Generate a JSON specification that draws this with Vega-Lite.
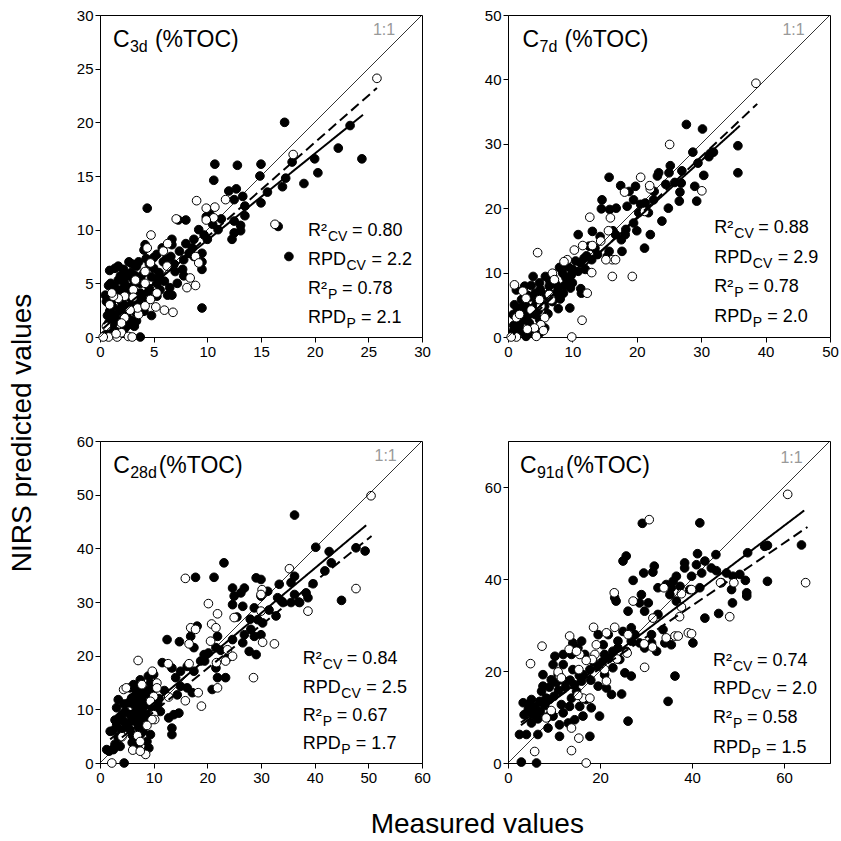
{
"$schema":"https://vega.github.io/schema/vega-lite/v6.json",
"padding":{"left":8,"top":7,"right":5,"bottom":0},
"config":{"font":"Liberation Sans","view":{"stroke":"black","strokeWidth":1},
"axis":{"domainColor":"black","tickColor":"black","labelColor":"black","labelFontSize":15,"tickSize":5,"labelPadding":2,"grid":false,"title":null,"labelFont":"Liberation Sans","labelFlush":false,"labelOverlap":false},
"title":{"font":"Liberation Sans","fontWeight":"normal","color":"black","fontSize":28},
"text":{"font":"Liberation Sans","color":"black"}},
"datasets":{
"pts":[
{"p":1,"t":"c","x":17.2,"y":20.0},{"p":1,"t":"c","x":23.3,"y":19.7},{"p":1,"t":"c","x":22.2,"y":17.6},{"p":1,"t":"c","x":24.4,"y":16.6},{"p":1,"t":"c","x":20.0,"y":16.6},{"p":1,"t":"c","x":20.3,"y":15.3},{"p":1,"t":"c","x":19.0,"y":14.3},{"p":1,"t":"c","x":17.9,"y":16.3},{"p":1,"t":"c","x":17.0,"y":14.0},{"p":1,"t":"c","x":17.3,"y":14.8},{"p":1,"t":"c","x":15.6,"y":13.5},{"p":1,"t":"c","x":15.0,"y":16.1},{"p":1,"t":"c","x":14.9,"y":15.0},{"p":1,"t":"c","x":15.0,"y":12.5},{"p":1,"t":"c","x":10.7,"y":16.1},{"p":1,"t":"c","x":10.6,"y":14.6},{"p":1,"t":"c","x":12.8,"y":16.0},{"p":1,"t":"c","x":12.0,"y":13.6},{"p":1,"t":"c","x":12.7,"y":13.8},{"p":1,"t":"c","x":13.3,"y":13.1},{"p":1,"t":"c","x":12.5,"y":12.8},{"p":1,"t":"c","x":13.5,"y":12.2},{"p":1,"t":"c","x":13.5,"y":11.3},{"p":1,"t":"c","x":12.5,"y":10.8},{"p":1,"t":"c","x":13.1,"y":10.4},{"p":1,"t":"c","x":13.1,"y":9.9},{"p":1,"t":"c","x":12.3,"y":9.1},{"p":1,"t":"c","x":12.5,"y":9.7},{"p":1,"t":"c","x":4.4,"y":12.0},{"p":1,"t":"c","x":17.6,"y":7.5},{"p":1,"t":"c","x":16.6,"y":10.3},{"p":1,"t":"c","x":9.5,"y":2.7},{"p":1,"t":"c","x":10.2,"y":11.6},{"p":1,"t":"c","x":9.2,"y":10.0},{"p":1,"t":"c","x":9.7,"y":9.5},{"p":1,"t":"c","x":10.0,"y":9.1},{"p":1,"t":"c","x":8.75,"y":9.1},{"p":1,"t":"c","x":9.5,"y":7.8},{"p":1,"t":"c","x":8.3,"y":7.8},{"p":1,"t":"c","x":7.8,"y":7.2},{"p":1,"t":"c","x":7.7,"y":6.3},{"p":1,"t":"c","x":7.0,"y":6.1},{"p":1,"t":"c","x":9.5,"y":6.3},{"p":1,"t":"c","x":6.6,"y":7.5},{"p":1,"t":"c","x":6.7,"y":8.6},{"p":1,"t":"c","x":5.8,"y":8.3},{"p":1,"t":"c","x":5.9,"y":7.0},{"p":1,"t":"c","x":5.5,"y":6.0},{"p":1,"t":"c","x":5.3,"y":5.0},{"p":1,"t":"c","x":5.6,"y":4.4},{"p":1,"t":"c","x":6.3,"y":3.9},{"p":1,"t":"c","x":6.7,"y":3.9},{"p":1,"t":"c","x":5.3,"y":3.8},{"p":1,"t":"c","x":4.2,"y":8.6},{"p":1,"t":"c","x":4.1,"y":8.1},{"p":1,"t":"c","x":5.0,"y":7.4},{"p":1,"t":"c","x":5.0,"y":6.4},{"p":1,"t":"c","x":4.5,"y":3.5},{"p":1,"t":"c","x":3.75,"y":4.1},{"p":1,"t":"c","x":3.75,"y":5.0},{"p":1,"t":"c","x":3.4,"y":6.6},{"p":1,"t":"c","x":2.7,"y":7.0},{"p":1,"t":"c","x":1.7,"y":6.6},{"p":1,"t":"c","x":1.4,"y":6.4},{"p":1,"t":"c","x":1.9,"y":5.7},{"p":1,"t":"c","x":2.3,"y":5.0},{"p":1,"t":"c","x":3.0,"y":4.7},{"p":1,"t":"c","x":3.3,"y":4.1},{"p":1,"t":"c","x":2.0,"y":3.3},{"p":1,"t":"c","x":1.25,"y":3.5},{"p":1,"t":"c","x":0.9,"y":2.4},{"p":1,"t":"c","x":1.1,"y":1.9},{"p":1,"t":"c","x":1.6,"y":1.6},{"p":1,"t":"c","x":2.5,"y":2.2},{"p":1,"t":"c","x":2.8,"y":1.6},{"p":1,"t":"c","x":3.4,"y":2.2},{"p":1,"t":"c","x":4.1,"y":2.4},{"p":1,"t":"c","x":0.8,"y":1.3},{"p":1,"t":"c","x":2.3,"y":0.8},{"p":1,"t":"c","x":3.75,"y":0},{"p":1,"t":"c","x":0.5,"y":3.9},{"p":1,"t":"c","x":0.6,"y":3.3},{"p":1,"t":"c","x":1.7,"y":4.1},{"p":1,"t":"c","x":2.7,"y":5.7},{"p":1,"t":"c","x":3.3,"y":5.7},{"p":1,"t":"c","x":4.1,"y":6.0},{"p":1,"t":"c","x":8.0,"y":10.9},{"p":1,"t":"c","x":6.7,"y":9.1},{"p":1,"t":"c","x":8.6,"y":8.3},{"p":1,"t":"c","x":8.75,"y":7.5},{"p":1,"t":"c","x":7.8,"y":5.7},{"p":1,"t":"c","x":7.3,"y":10.9},{"p":1,"t":"c","x":9.5,"y":7.0},{"p":1,"t":"c","x":10.5,"y":10.5},{"p":1,"t":"c","x":11.0,"y":10.0},{"p":1,"t":"c","x":11.3,"y":11.0},{"p":1,"t":"c","x":9.9,"y":11.2},{"p":1,"t":"c","x":2.0,"y":2.8},{"p":1,"t":"c","x":2.6,"y":3.8},{"p":1,"t":"c","x":3.0,"y":3.0},{"p":1,"t":"c","x":1.3,"y":2.0},{"p":1,"t":"c","x":2.2,"y":1.2},{"p":1,"t":"c","x":1.0,"y":0.8},{"p":1,"t":"c","x":3.2,"y":1.0},{"p":1,"t":"c","x":4.0,"y":3.2},{"p":1,"t":"c","x":4.6,"y":4.5},{"p":1,"t":"c","x":6.0,"y":5.2},{"p":1,"t":"c","x":3.6,"y":7.0},{"p":1,"t":"c","x":2.2,"y":6.3},{"p":1,"t":"c","x":1.0,"y":5.0},{"p":1,"t":"c","x":2.9,"y":6.0},{"p":1,"t":"c","x":0.5,"y":0.2},{"p":1,"t":"c","x":1.5,"y":0.5},
{"p":1,"t":"c","x":0.7,"y":2.0},{"p":1,"t":"c","x":1.2,"y":2.8},{"p":1,"t":"c","x":1.8,"y":2.4},{"p":1,"t":"c","x":2.4,"y":2.9},{"p":1,"t":"c","x":2.9,"y":3.6},{"p":1,"t":"c","x":3.5,"y":3.3},{"p":1,"t":"c","x":3.9,"y":3.9},{"p":1,"t":"c","x":4.4,"y":4.0},{"p":1,"t":"c","x":4.8,"y":5.6},{"p":1,"t":"c","x":5.5,"y":5.5},{"p":1,"t":"c","x":2.0,"y":4.4},{"p":1,"t":"c","x":2.6,"y":4.4},{"p":1,"t":"c","x":1.4,"y":4.6},{"p":1,"t":"c","x":0.8,"y":4.8},{"p":1,"t":"c","x":1.7,"y":5.3},{"p":1,"t":"c","x":2.4,"y":5.7},{"p":1,"t":"c","x":3.1,"y":5.4},{"p":1,"t":"c","x":3.8,"y":5.6},{"p":1,"t":"c","x":4.6,"y":6.8},{"p":1,"t":"c","x":5.3,"y":7.7},{"p":1,"t":"c","x":6.2,"y":7.3},{"p":1,"t":"c","x":6.9,"y":6.8},{"p":1,"t":"c","x":7.4,"y":8.0},{"p":1,"t":"c","x":8.0,"y":8.7},{"p":1,"t":"c","x":1.2,"y":1.2},{"p":1,"t":"c","x":2.6,"y":1.1},{"p":1,"t":"c","x":3.4,"y":1.5},{"p":1,"t":"c","x":4.8,"y":2.0},{"p":1,"t":"c","x":1.9,"y":3.9},{"p":1,"t":"c","x":0.9,"y":6.2},{"p":1,"t":"c","x":3.0,"y":6.8},{"p":1,"t":"c","x":4.3,"y":7.3},{"p":1,"t":"c","x":6.5,"y":4.6},{"p":1,"t":"c","x":7.2,"y":5.0},
{"p":1,"t":"v","x":25.8,"y":24.1},{"p":1,"t":"v","x":18.0,"y":17.0},{"p":1,"t":"v","x":11.7,"y":12.8},{"p":1,"t":"v","x":9.0,"y":12.7},{"p":1,"t":"v","x":9.9,"y":12.0},{"p":1,"t":"v","x":10.7,"y":12.1},{"p":1,"t":"v","x":10.6,"y":11.1},{"p":1,"t":"v","x":9.9,"y":10.9},{"p":1,"t":"v","x":7.1,"y":11.0},{"p":1,"t":"v","x":16.3,"y":10.5},{"p":1,"t":"v","x":4.75,"y":9.5},{"p":1,"t":"v","x":4.4,"y":8.3},{"p":1,"t":"v","x":6.3,"y":8.7},{"p":1,"t":"v","x":5.9,"y":8.0},{"p":1,"t":"v","x":4.7,"y":6.9},{"p":1,"t":"v","x":4.2,"y":6.1},{"p":1,"t":"v","x":6.25,"y":6.6},{"p":1,"t":"v","x":8.9,"y":7.5},{"p":1,"t":"v","x":9.2,"y":6.9},{"p":1,"t":"v","x":8.4,"y":5.5},{"p":1,"t":"v","x":8.1,"y":4.6},{"p":1,"t":"v","x":8.9,"y":4.8},{"p":1,"t":"v","x":5.2,"y":2.8},{"p":1,"t":"v","x":6.0,"y":2.5},{"p":1,"t":"v","x":6.8,"y":2.3},{"p":1,"t":"v","x":5.3,"y":4.1},{"p":1,"t":"v","x":4.2,"y":5.0},{"p":1,"t":"v","x":3.3,"y":5.3},{"p":1,"t":"v","x":3.1,"y":4.4},{"p":1,"t":"v","x":3.6,"y":2.1},{"p":1,"t":"v","x":2.3,"y":3.8},{"p":1,"t":"v","x":1.7,"y":3.6},{"p":1,"t":"v","x":1.25,"y":3.8},{"p":1,"t":"v","x":0.9,"y":3.0},{"p":1,"t":"v","x":1.1,"y":4.1},{"p":1,"t":"v","x":0.8,"y":0},{"p":1,"t":"v","x":0.3,"y":0},{"p":1,"t":"v","x":1.6,"y":0},{"p":1,"t":"v","x":2.0,"y":0.4},{"p":1,"t":"v","x":2.65,"y":0.05},{"p":1,"t":"v","x":3.0,"y":0},{"p":1,"t":"v","x":1.5,"y":0.3},{"p":1,"t":"v","x":2.3,"y":1.8},{"p":1,"t":"v","x":2.0,"y":1.3},{"p":1,"t":"v","x":3.5,"y":2.7},{"p":1,"t":"v","x":4.2,"y":2.9},{"p":1,"t":"v","x":4.7,"y":3.5},{"p":1,"t":"v","x":2.8,"y":2.5},{"p":1,"t":"v","x":0.6,"y":1.0},{"p":1,"t":"v","x":3.1,"y":3.7},
{"p":2,"t":"c","x":27.7,"y":33.0},{"p":2,"t":"c","x":30.2,"y":32.3},{"p":2,"t":"c","x":35.7,"y":29.7},{"p":2,"t":"c","x":35.7,"y":25.5},{"p":2,"t":"c","x":28.7,"y":28.7},{"p":2,"t":"c","x":31.4,"y":28.5},{"p":2,"t":"c","x":31.9,"y":28.7},{"p":2,"t":"c","x":29.0,"y":23.4},{"p":2,"t":"c","x":29.3,"y":21.1},{"p":2,"t":"c","x":30.4,"y":25.1},{"p":2,"t":"c","x":29.5,"y":27.0},{"p":2,"t":"c","x":23.4,"y":25.5},{"p":2,"t":"c","x":25.2,"y":26.6},{"p":2,"t":"c","x":25.0,"y":25.5},{"p":2,"t":"c","x":23.2,"y":25.0},{"p":2,"t":"c","x":26.9,"y":23.9},{"p":2,"t":"c","x":26.7,"y":22.5},{"p":2,"t":"c","x":24.9,"y":20.0},{"p":2,"t":"c","x":26.6,"y":21.1},{"p":2,"t":"c","x":23.9,"y":18.0},{"p":2,"t":"c","x":22.1,"y":15.9},{"p":2,"t":"c","x":21.2,"y":13.8},{"p":2,"t":"c","x":17.7,"y":13.3},{"p":2,"t":"c","x":17.6,"y":15.1},{"p":2,"t":"c","x":15.7,"y":24.8},{"p":2,"t":"c","x":14.6,"y":21.3},{"p":2,"t":"c","x":15.8,"y":19.8},{"p":2,"t":"c","x":14.5,"y":19.9},{"p":2,"t":"c","x":13.1,"y":16.4},{"p":2,"t":"c","x":10.9,"y":15.9},{"p":2,"t":"c","x":12.6,"y":14.1},{"p":2,"t":"c","x":17.5,"y":23.5},{"p":2,"t":"c","x":18.8,"y":22.6},{"p":2,"t":"c","x":19.8,"y":23.4},{"p":2,"t":"c","x":19.5,"y":21.3},{"p":2,"t":"c","x":18.5,"y":20.3},{"p":2,"t":"c","x":20.3,"y":19.3},{"p":2,"t":"c","x":21.3,"y":20.8},{"p":2,"t":"c","x":21.8,"y":19.3},{"p":2,"t":"c","x":22.6,"y":21.3},{"p":2,"t":"c","x":19.5,"y":17.7},{"p":2,"t":"c","x":18.3,"y":16.7},{"p":2,"t":"c","x":18.2,"y":15.9},{"p":2,"t":"c","x":16.7,"y":15.9},{"p":2,"t":"c","x":15.4,"y":12.5},{"p":2,"t":"c","x":15.7,"y":13.3},{"p":2,"t":"c","x":13.9,"y":12.8},{"p":2,"t":"c","x":11.3,"y":11.5},{"p":2,"t":"c","x":10.9,"y":10.2},{"p":2,"t":"c","x":10.0,"y":10.5},{"p":2,"t":"c","x":11.3,"y":7.5},{"p":2,"t":"c","x":11.4,"y":6.8},{"p":2,"t":"c","x":8.1,"y":5.9},{"p":2,"t":"c","x":9.6,"y":4.5},{"p":2,"t":"c","x":10.0,"y":8.4},{"p":2,"t":"c","x":9.0,"y":9.2},{"p":2,"t":"c","x":8.5,"y":9.9},{"p":2,"t":"c","x":7.5,"y":8.1},{"p":2,"t":"c","x":6.4,"y":7.9},{"p":2,"t":"c","x":5.8,"y":9.4},{"p":2,"t":"c","x":4.9,"y":8.4},{"p":2,"t":"c","x":3.9,"y":9.4},{"p":2,"t":"c","x":3.6,"y":8.0},{"p":2,"t":"c","x":2.6,"y":7.9},{"p":2,"t":"c","x":1.3,"y":7.3},{"p":2,"t":"c","x":1.0,"y":5.0},{"p":2,"t":"c","x":2.1,"y":5.8},{"p":2,"t":"c","x":3.1,"y":4.5},{"p":2,"t":"c","x":4.4,"y":5.5},{"p":2,"t":"c","x":5.7,"y":4.8},{"p":2,"t":"c","x":6.9,"y":5.5},{"p":2,"t":"c","x":2.3,"y":3.5},{"p":2,"t":"c","x":1.5,"y":2.7},{"p":2,"t":"c","x":3.3,"y":2.2},{"p":2,"t":"c","x":4.9,"y":2.7},{"p":2,"t":"c","x":5.7,"y":1.4},{"p":2,"t":"c","x":3.9,"y":0.6},{"p":2,"t":"c","x":2.8,"y":0.1},{"p":2,"t":"c","x":1.8,"y":1.4},{"p":2,"t":"c","x":0.8,"y":0.9},{"p":2,"t":"c","x":4.9,"y":0.6},{"p":2,"t":"c","x":6.4,"y":6.8},{"p":2,"t":"c","x":7.7,"y":7.1},{"p":2,"t":"c","x":12.2,"y":12.6},{"p":2,"t":"c","x":13.5,"y":13.8},{"p":2,"t":"c","x":14.3,"y":15.6},{"p":2,"t":"c","x":16.3,"y":16.5},{"p":2,"t":"c","x":20.6,"y":20.6},{"p":2,"t":"c","x":22.7,"y":22.6},{"p":2,"t":"c","x":25.9,"y":24.0},{"p":2,"t":"c","x":27.0,"y":25.8},{"p":2,"t":"c","x":31.2,"y":28.0},{"p":2,"t":"c","x":24.5,"y":23.7},{"p":2,"t":"c","x":20.0,"y":16.5},{"p":2,"t":"c","x":16.8,"y":20.0},{"p":2,"t":"c","x":13.0,"y":12.0},{"p":2,"t":"c","x":8.8,"y":8.0},{"p":2,"t":"c","x":7.3,"y":6.2},{"p":2,"t":"c","x":12.0,"y":10.5},{"p":2,"t":"c","x":3.0,"y":6.5},{"p":2,"t":"c","x":2.0,"y":4.5},{"p":2,"t":"c","x":4.2,"y":3.5},{"p":2,"t":"c","x":5.2,"y":6.8},{"p":2,"t":"c","x":0.8,"y":3.5},{"p":2,"t":"c","x":1.8,"y":2.0},
{"p":2,"t":"c","x":1.2,"y":1.8},{"p":2,"t":"c","x":2.0,"y":2.6},{"p":2,"t":"c","x":2.7,"y":3.0},{"p":2,"t":"c","x":3.5,"y":3.7},{"p":2,"t":"c","x":4.0,"y":4.6},{"p":2,"t":"c","x":4.7,"y":4.1},{"p":2,"t":"c","x":2.6,"y":5.2},{"p":2,"t":"c","x":3.3,"y":6.2},{"p":2,"t":"c","x":4.2,"y":6.8},{"p":2,"t":"c","x":5.0,"y":7.4},{"p":2,"t":"c","x":5.9,"y":6.4},{"p":2,"t":"c","x":6.5,"y":8.7},{"p":2,"t":"c","x":7.0,"y":9.3},{"p":2,"t":"c","x":8.0,"y":10.8},{"p":2,"t":"c","x":9.3,"y":10.9},{"p":2,"t":"c","x":9.8,"y":9.6},{"p":2,"t":"c","x":10.5,"y":11.8},{"p":2,"t":"c","x":11.8,"y":12.2},{"p":2,"t":"c","x":1.5,"y":4.2},{"p":2,"t":"c","x":0.9,"y":1.8},{"p":2,"t":"c","x":2.2,"y":0.8},{"p":2,"t":"c","x":3.6,"y":1.5},{"p":2,"t":"c","x":6.2,"y":3.6},{"p":2,"t":"c","x":7.8,"y":4.4},{"p":2,"t":"c","x":8.6,"y":6.8},{"p":2,"t":"c","x":9.7,"y":7.6},
{"p":2,"t":"v","x":38.5,"y":39.4},{"p":2,"t":"v","x":25.1,"y":29.9},{"p":2,"t":"v","x":30.1,"y":22.7},{"p":2,"t":"v","x":20.6,"y":24.8},{"p":2,"t":"v","x":22.1,"y":23.0},{"p":2,"t":"v","x":18.1,"y":22.5},{"p":2,"t":"v","x":12.7,"y":18.6},{"p":2,"t":"v","x":15.9,"y":18.5},{"p":2,"t":"v","x":15.6,"y":16.5},{"p":2,"t":"v","x":21.2,"y":19.5},{"p":2,"t":"v","x":4.6,"y":13.1},{"p":2,"t":"v","x":13.1,"y":14.2},{"p":2,"t":"v","x":14.4,"y":14.9},{"p":2,"t":"v","x":11.6,"y":14.2},{"p":2,"t":"v","x":16.2,"y":12.0},{"p":2,"t":"v","x":16.7,"y":12.0},{"p":2,"t":"v","x":15.2,"y":12.0},{"p":2,"t":"v","x":13.0,"y":10.0},{"p":2,"t":"v","x":16.2,"y":9.4},{"p":2,"t":"v","x":19.3,"y":9.4},{"p":2,"t":"v","x":12.3,"y":6.8},{"p":2,"t":"v","x":11.5,"y":2.6},{"p":2,"t":"v","x":9.9,"y":0},{"p":2,"t":"v","x":9.2,"y":12.0},{"p":2,"t":"v","x":8.7,"y":11.7},{"p":2,"t":"v","x":6.9,"y":9.9},{"p":2,"t":"v","x":7.2,"y":8.9},{"p":2,"t":"v","x":6.4,"y":6.6},{"p":2,"t":"v","x":1.0,"y":8.1},{"p":2,"t":"v","x":2.3,"y":7.1},{"p":2,"t":"v","x":1.3,"y":3.0},{"p":2,"t":"v","x":1.8,"y":3.5},{"p":2,"t":"v","x":3.6,"y":4.2},{"p":2,"t":"v","x":5.1,"y":4.8},{"p":2,"t":"v","x":5.7,"y":3.0},{"p":2,"t":"v","x":5.1,"y":1.9},{"p":2,"t":"v","x":5.5,"y":1.0},{"p":2,"t":"v","x":4.1,"y":1.4},{"p":2,"t":"v","x":1.3,"y":0},{"p":2,"t":"v","x":4.4,"y":0.1},{"p":2,"t":"v","x":0.5,"y":0},{"p":2,"t":"v","x":6.7,"y":5.8},{"p":2,"t":"v","x":4.9,"y":5.8},{"p":2,"t":"v","x":2.8,"y":6.0},{"p":2,"t":"v","x":3.0,"y":1.2},{"p":2,"t":"v","x":10.3,"y":13.5},{"p":2,"t":"v","x":22.0,"y":23.5},
{"p":3,"t":"c","x":36.25,"y":46.2},{"p":3,"t":"c","x":40.2,"y":40.2},{"p":3,"t":"c","x":42.7,"y":39.4},{"p":3,"t":"c","x":47.7,"y":40.1},{"p":3,"t":"c","x":49.4,"y":39.5},{"p":3,"t":"c","x":41.9,"y":35.8},{"p":3,"t":"c","x":43.1,"y":37.3},{"p":3,"t":"c","x":45.0,"y":30.3},{"p":3,"t":"c","x":23.1,"y":37.3},{"p":3,"t":"c","x":21.25,"y":34.6},{"p":3,"t":"c","x":17.8,"y":34.6},{"p":3,"t":"c","x":39.7,"y":33.4},{"p":3,"t":"c","x":38.4,"y":31.7},{"p":3,"t":"c","x":38.75,"y":30.8},{"p":3,"t":"c","x":36.25,"y":34.8},{"p":3,"t":"c","x":35.6,"y":33.6},{"p":3,"t":"c","x":33.4,"y":33.3},{"p":3,"t":"c","x":30.0,"y":34.2},{"p":3,"t":"c","x":29.1,"y":34.5},{"p":3,"t":"c","x":30.0,"y":31.1},{"p":3,"t":"c","x":31.25,"y":32.0},{"p":3,"t":"c","x":33.1,"y":30.8},{"p":3,"t":"c","x":34.1,"y":29.9},{"p":3,"t":"c","x":35.6,"y":29.9},{"p":3,"t":"c","x":37.2,"y":29.9},{"p":3,"t":"c","x":36.25,"y":31.4},{"p":3,"t":"c","x":32.8,"y":27.4},{"p":3,"t":"c","x":26.9,"y":32.6},{"p":3,"t":"c","x":26.25,"y":31.7},{"p":3,"t":"c","x":24.7,"y":32.6},{"p":3,"t":"c","x":25.0,"y":31.1},{"p":3,"t":"c","x":24.7,"y":29.5},{"p":3,"t":"c","x":26.6,"y":29.2},{"p":3,"t":"c","x":28.75,"y":28.9},{"p":3,"t":"c","x":29.4,"y":26.7},{"p":3,"t":"c","x":30.3,"y":26.1},{"p":3,"t":"c","x":28.1,"y":24.9},{"p":3,"t":"c","x":28.75,"y":23.6},{"p":3,"t":"c","x":30.0,"y":23.9},{"p":3,"t":"c","x":26.9,"y":23.9},{"p":3,"t":"c","x":26.6,"y":22.4},{"p":3,"t":"c","x":27.8,"y":20.8},{"p":3,"t":"c","x":29.1,"y":20.2},{"p":3,"t":"c","x":24.7,"y":23.0},{"p":3,"t":"c","x":23.75,"y":19.6},{"p":3,"t":"c","x":21.9,"y":23.6},{"p":3,"t":"c","x":21.6,"y":21.5},{"p":3,"t":"c","x":21.6,"y":17.7},{"p":3,"t":"c","x":21.9,"y":15.9},{"p":3,"t":"c","x":23.4,"y":15.9},{"p":3,"t":"c","x":20.9,"y":13.7},{"p":3,"t":"c","x":18.1,"y":25.5},{"p":3,"t":"c","x":16.9,"y":23.6},{"p":3,"t":"c","x":17.5,"y":21.5},{"p":3,"t":"c","x":19.4,"y":20.2},{"p":3,"t":"c","x":18.75,"y":19.0},{"p":3,"t":"c","x":16.25,"y":18.0},{"p":3,"t":"c","x":15.0,"y":17.1},{"p":3,"t":"c","x":12.5,"y":23.0},{"p":3,"t":"c","x":14.8,"y":22.6},{"p":3,"t":"c","x":11.6,"y":18.7},{"p":3,"t":"c","x":13.4,"y":17.7},{"p":3,"t":"c","x":14.1,"y":15.9},{"p":3,"t":"c","x":15.0,"y":14.3},{"p":3,"t":"c","x":16.25,"y":14.0},{"p":3,"t":"c","x":17.5,"y":17.1},{"p":3,"t":"c","x":17.2,"y":13.1},{"p":3,"t":"c","x":14.4,"y":12.7},{"p":3,"t":"c","x":14.7,"y":9.3},{"p":3,"t":"c","x":13.75,"y":9.0},{"p":3,"t":"c","x":13.4,"y":6.5},{"p":3,"t":"c","x":13.4,"y":5.3},{"p":3,"t":"c","x":12.8,"y":8.4},{"p":3,"t":"c","x":9.4,"y":14.9},{"p":3,"t":"c","x":9.7,"y":13.4},{"p":3,"t":"c","x":8.75,"y":11.8},{"p":3,"t":"c","x":7.5,"y":15.5},{"p":3,"t":"c","x":6.25,"y":14.6},{"p":3,"t":"c","x":5.6,"y":14.0},{"p":3,"t":"c","x":5.9,"y":12.1},{"p":3,"t":"c","x":7.2,"y":11.2},{"p":3,"t":"c","x":8.1,"y":10.6},{"p":3,"t":"c","x":9.4,"y":9.3},{"p":3,"t":"c","x":10.3,"y":10.3},{"p":3,"t":"c","x":11.25,"y":9.6},{"p":3,"t":"c","x":6.9,"y":9.6},{"p":3,"t":"c","x":5.6,"y":9.0},{"p":3,"t":"c","x":4.7,"y":9.6},{"p":3,"t":"c","x":3.4,"y":11.8},{"p":3,"t":"c","x":3.1,"y":10.3},{"p":3,"t":"c","x":4.4,"y":7.8},{"p":3,"t":"c","x":3.1,"y":7.0},{"p":3,"t":"c","x":1.9,"y":5.9},{"p":3,"t":"c","x":5.6,"y":6.2},{"p":3,"t":"c","x":6.9,"y":7.5},{"p":3,"t":"c","x":8.4,"y":7.2},{"p":3,"t":"c","x":9.4,"y":5.3},{"p":3,"t":"c","x":8.75,"y":4.0},{"p":3,"t":"c","x":7.5,"y":5.3},{"p":3,"t":"c","x":6.6,"y":4.4},{"p":3,"t":"c","x":9.1,"y":2.8},{"p":3,"t":"c","x":3.4,"y":4.7},{"p":3,"t":"c","x":3.75,"y":3.1},{"p":3,"t":"c","x":2.5,"y":2.5},{"p":3,"t":"c","x":1.7,"y":2.2},{"p":3,"t":"c","x":1.25,"y":2.5},{"p":3,"t":"c","x":4.5,"y":0},{"p":3,"t":"c","x":4.1,"y":9.0},{"p":3,"t":"c","x":7.0,"y":8.0},{"p":3,"t":"c","x":8.0,"y":9.5},{"p":3,"t":"c","x":6.5,"y":12.5},{"p":3,"t":"c","x":7.8,"y":13.0},{"p":3,"t":"c","x":9.0,"y":16.2},{"p":3,"t":"c","x":10.0,"y":16.5},{"p":3,"t":"c","x":8.5,"y":12.5},{"p":3,"t":"c","x":11.0,"y":12.0},{"p":3,"t":"c","x":19.5,"y":19.0},{"p":3,"t":"c","x":20.2,"y":20.5},{"p":3,"t":"c","x":22.5,"y":21.0},{"p":3,"t":"c","x":25.5,"y":27.2},{"p":3,"t":"c","x":28.0,"y":26.8},{"p":3,"t":"c","x":31.5,"y":28.5},{"p":3,"t":"c","x":33.8,"y":30.2},{"p":3,"t":"c","x":37.0,"y":30.0},{"p":3,"t":"c","x":4.0,"y":6.2},{"p":3,"t":"c","x":2.4,"y":6.0},{"p":3,"t":"c","x":6.0,"y":5.2},{"p":3,"t":"c","x":7.0,"y":3.2},
{"p":3,"t":"c","x":5.0,"y":6.8},{"p":3,"t":"c","x":5.8,"y":7.8},{"p":3,"t":"c","x":6.3,"y":9.2},{"p":3,"t":"c","x":7.0,"y":10.2},{"p":3,"t":"c","x":7.5,"y":9.0},{"p":3,"t":"c","x":8.2,"y":8.4},{"p":3,"t":"c","x":6.4,"y":10.8},{"p":3,"t":"c","x":7.7,"y":11.9},{"p":3,"t":"c","x":8.9,"y":13.5},{"p":3,"t":"c","x":6.8,"y":13.6},{"p":3,"t":"c","x":5.3,"y":11.2},{"p":3,"t":"c","x":4.5,"y":11.0},{"p":3,"t":"c","x":3.6,"y":8.5},{"p":3,"t":"c","x":2.8,"y":8.0},{"p":3,"t":"c","x":9.5,"y":10.6},{"p":3,"t":"c","x":10.8,"y":11.0},{"p":3,"t":"c","x":12.0,"y":13.5},{"p":3,"t":"c","x":7.3,"y":6.4},{"p":3,"t":"c","x":8.0,"y":5.9},{"p":3,"t":"c","x":6.0,"y":3.8},{"p":3,"t":"c","x":2.8,"y":3.5},
{"p":3,"t":"v","x":50.5,"y":49.8},{"p":3,"t":"v","x":47.7,"y":32.5},{"p":3,"t":"v","x":15.9,"y":34.4},{"p":3,"t":"v","x":30.2,"y":32.3},{"p":3,"t":"v","x":30.0,"y":31.4},{"p":3,"t":"v","x":35.3,"y":36.2},{"p":3,"t":"v","x":38.75,"y":28.3},{"p":3,"t":"v","x":30.0,"y":28.3},{"p":3,"t":"v","x":25.0,"y":27.1},{"p":3,"t":"v","x":20.2,"y":29.7},{"p":3,"t":"v","x":21.9,"y":27.8},{"p":3,"t":"v","x":20.8,"y":25.9},{"p":3,"t":"v","x":21.6,"y":25.2},{"p":3,"t":"v","x":16.9,"y":25.2},{"p":3,"t":"v","x":17.8,"y":24.9},{"p":3,"t":"v","x":20.6,"y":22.7},{"p":3,"t":"v","x":23.75,"y":21.1},{"p":3,"t":"v","x":24.7,"y":19.9},{"p":3,"t":"v","x":23.4,"y":19.0},{"p":3,"t":"v","x":21.7,"y":18.7},{"p":3,"t":"v","x":30.3,"y":22.5},{"p":3,"t":"v","x":32.5,"y":22.2},{"p":3,"t":"v","x":28.6,"y":15.9},{"p":3,"t":"v","x":21.9,"y":14.0},{"p":3,"t":"v","x":16.6,"y":22.2},{"p":3,"t":"v","x":16.6,"y":18.5},{"p":3,"t":"v","x":12.7,"y":18.5},{"p":3,"t":"v","x":12.8,"y":12.3},{"p":3,"t":"v","x":15.9,"y":11.6},{"p":3,"t":"v","x":18.3,"y":13.1},{"p":3,"t":"v","x":18.9,"y":10.6},{"p":3,"t":"v","x":7.1,"y":19.1},{"p":3,"t":"v","x":9.75,"y":17.1},{"p":3,"t":"v","x":10.6,"y":14.9},{"p":3,"t":"v","x":10.6,"y":14.0},{"p":3,"t":"v","x":7.8,"y":14.6},{"p":3,"t":"v","x":4.4,"y":13.7},{"p":3,"t":"v","x":4.9,"y":14.0},{"p":3,"t":"v","x":10.0,"y":12.4},{"p":3,"t":"v","x":9.4,"y":11.5},{"p":3,"t":"v","x":10.0,"y":9.0},{"p":3,"t":"v","x":10.2,"y":8.1},{"p":3,"t":"v","x":9.7,"y":8.1},{"p":3,"t":"v","x":8.75,"y":7.0},{"p":3,"t":"v","x":7.0,"y":5.1},{"p":3,"t":"v","x":7.5,"y":4.0},{"p":3,"t":"v","x":6.1,"y":2.4},{"p":3,"t":"v","x":8.5,"y":1.6},{"p":3,"t":"v","x":4.1,"y":4.9},{"p":3,"t":"v","x":2.2,"y":0},{"p":3,"t":"v","x":7.5,"y":2.2},
{"p":4,"t":"c","x":29.2,"y":52.1},{"p":4,"t":"c","x":41.7,"y":52.2},{"p":4,"t":"c","x":63.8,"y":47.4},{"p":4,"t":"c","x":55.8,"y":47.1},{"p":4,"t":"c","x":56.4,"y":47.3},{"p":4,"t":"c","x":52.1,"y":45.7},{"p":4,"t":"c","x":45.2,"y":45.3},{"p":4,"t":"c","x":41.2,"y":45.5},{"p":4,"t":"c","x":25.7,"y":45.0},{"p":4,"t":"c","x":25.0,"y":43.9},{"p":4,"t":"c","x":31.8,"y":42.8},{"p":4,"t":"c","x":31.5,"y":41.5},{"p":4,"t":"c","x":29.5,"y":41.3},{"p":4,"t":"c","x":27.2,"y":39.7},{"p":4,"t":"c","x":56.4,"y":39.5},{"p":4,"t":"c","x":51.6,"y":39.7},{"p":4,"t":"c","x":46.4,"y":39.2},{"p":4,"t":"c","x":38.4,"y":43.5},{"p":4,"t":"c","x":38.4,"y":42.4},{"p":4,"t":"c","x":40.97,"y":43.1},{"p":4,"t":"c","x":44.2,"y":42.4},{"p":4,"t":"c","x":45.3,"y":41.8},{"p":4,"t":"c","x":42.1,"y":41.3},{"p":4,"t":"c","x":39.9,"y":40.6},{"p":4,"t":"c","x":36.6,"y":40.6},{"p":4,"t":"c","x":35.9,"y":39.5},{"p":4,"t":"c","x":34.4,"y":38.8},{"p":4,"t":"c","x":32.6,"y":38.1},{"p":4,"t":"c","x":35.5,"y":38.1},{"p":4,"t":"c","x":37.4,"y":38.4},{"p":4,"t":"c","x":39.5,"y":37.7},{"p":4,"t":"c","x":41.7,"y":38.1},{"p":4,"t":"c","x":47.5,"y":41.3},{"p":4,"t":"c","x":48.9,"y":40.6},{"p":4,"t":"c","x":50.4,"y":41.0},{"p":4,"t":"c","x":48.6,"y":37.7},{"p":4,"t":"c","x":48.8,"y":34.8},{"p":4,"t":"c","x":51.9,"y":37.0},{"p":4,"t":"c","x":51.9,"y":36.3},{"p":4,"t":"c","x":45.8,"y":32.5},{"p":4,"t":"c","x":42.8,"y":31.5},{"p":4,"t":"c","x":29.0,"y":36.6},{"p":4,"t":"c","x":30.5,"y":34.8},{"p":4,"t":"c","x":28.6,"y":34.8},{"p":4,"t":"c","x":29.7,"y":33.0},{"p":4,"t":"c","x":32.6,"y":32.3},{"p":4,"t":"c","x":35.2,"y":36.6},{"p":4,"t":"c","x":36.6,"y":35.2},{"p":4,"t":"c","x":33.7,"y":29.0},{"p":4,"t":"c","x":34.1,"y":26.1},{"p":4,"t":"c","x":35.5,"y":25.7},{"p":4,"t":"c","x":40.2,"y":26.1},{"p":4,"t":"c","x":34.8,"y":13.4},{"p":4,"t":"c","x":36.3,"y":18.9},{"p":4,"t":"c","x":26.1,"y":33.0},{"p":4,"t":"c","x":23.5,"y":35.2},{"p":4,"t":"c","x":23.2,"y":35.9},{"p":4,"t":"c","x":26.8,"y":29.4},{"p":4,"t":"c","x":27.6,"y":27.9},{"p":4,"t":"c","x":25.0,"y":28.6},{"p":4,"t":"c","x":23.9,"y":26.5},{"p":4,"t":"c","x":23.9,"y":25.0},{"p":4,"t":"c","x":22.8,"y":24.3},{"p":4,"t":"c","x":26.8,"y":26.5},{"p":4,"t":"c","x":21.8,"y":27.9},{"p":4,"t":"c","x":19.6,"y":27.9},{"p":4,"t":"c","x":20.7,"y":25.7},{"p":4,"t":"c","x":21.0,"y":23.6},{"p":4,"t":"c","x":18.5,"y":22.1},{"p":4,"t":"c","x":16.7,"y":23.6},{"p":4,"t":"c","x":13.8,"y":23.6},{"p":4,"t":"c","x":14.1,"y":20.3},{"p":4,"t":"c","x":16.0,"y":26.5},{"p":4,"t":"c","x":15.2,"y":25.0},{"p":4,"t":"c","x":14.1,"y":26.1},{"p":4,"t":"c","x":12.0,"y":23.6},{"p":4,"t":"c","x":10.2,"y":23.2},{"p":4,"t":"c","x":9.8,"y":21.4},{"p":4,"t":"c","x":12.0,"y":21.4},{"p":4,"t":"c","x":10.9,"y":19.2},{"p":4,"t":"c","x":7.6,"y":19.2},{"p":4,"t":"c","x":7.6,"y":16.7},{"p":4,"t":"c","x":9.4,"y":18.1},{"p":4,"t":"c","x":7.3,"y":15.6},{"p":4,"t":"c","x":8.3,"y":14.1},{"p":4,"t":"c","x":6.9,"y":13.4},{"p":4,"t":"c","x":5.1,"y":13.8},{"p":4,"t":"c","x":3.3,"y":13.1},{"p":4,"t":"c","x":4.4,"y":11.6},{"p":4,"t":"c","x":5.4,"y":10.5},{"p":4,"t":"c","x":5.1,"y":8.7},{"p":4,"t":"c","x":2.5,"y":6.2},{"p":4,"t":"c","x":4.0,"y":6.2},{"p":4,"t":"c","x":6.5,"y":6.2},{"p":4,"t":"c","x":8.7,"y":7.6},{"p":4,"t":"c","x":11.2,"y":5.8},{"p":4,"t":"c","x":9.8,"y":10.2},{"p":4,"t":"c","x":12.0,"y":10.9},{"p":4,"t":"c","x":11.6,"y":12.7},{"p":4,"t":"c","x":13.4,"y":12.3},{"p":4,"t":"c","x":13.8,"y":14.1},{"p":4,"t":"c","x":14.9,"y":15.6},{"p":4,"t":"c","x":16.0,"y":17.8},{"p":4,"t":"c","x":16.3,"y":19.2},{"p":4,"t":"c","x":17.8,"y":20.3},{"p":4,"t":"c","x":15.6,"y":12.3},{"p":4,"t":"c","x":17.0,"y":13.8},{"p":4,"t":"c","x":16.3,"y":10.2},{"p":4,"t":"c","x":17.8,"y":5.8},{"p":4,"t":"c","x":19.9,"y":10.2},{"p":4,"t":"c","x":18.1,"y":12.0},{"p":4,"t":"c","x":14.5,"y":9.4},{"p":4,"t":"c","x":13.1,"y":8.7},{"p":4,"t":"c","x":11.2,"y":8.3},{"p":4,"t":"c","x":9.4,"y":10.9},{"p":4,"t":"c","x":2.9,"y":0.2},{"p":4,"t":"c","x":6.2,"y":0},{"p":4,"t":"c","x":26.1,"y":9.1},{"p":4,"t":"c","x":22.5,"y":14.9},{"p":4,"t":"c","x":25.4,"y":19.6},{"p":4,"t":"c","x":26.8,"y":18.9},{"p":4,"t":"c","x":24.7,"y":15.0},{"p":4,"t":"c","x":21.4,"y":16.3},{"p":4,"t":"c","x":19.6,"y":16.7},{"p":4,"t":"c","x":21.0,"y":19.2},{"p":4,"t":"c","x":22.8,"y":20.7},{"p":4,"t":"c","x":24.3,"y":22.5},{"p":4,"t":"c","x":25.7,"y":24.3},{"p":4,"t":"c","x":28.6,"y":26.1},{"p":4,"t":"c","x":29.7,"y":25.0},{"p":4,"t":"c","x":31.2,"y":26.1},{"p":4,"t":"c","x":32.3,"y":24.3},{"p":4,"t":"c","x":31.2,"y":27.9},{"p":4,"t":"c","x":42.8,"y":43.9},
{"p":4,"t":"c","x":5.0,"y":11.0},{"p":4,"t":"c","x":6.0,"y":12.2},{"p":4,"t":"c","x":7.0,"y":11.2},{"p":4,"t":"c","x":8.0,"y":12.5},{"p":4,"t":"c","x":9.0,"y":13.8},{"p":4,"t":"c","x":10.0,"y":14.5},{"p":4,"t":"c","x":11.0,"y":15.8},{"p":4,"t":"c","x":12.5,"y":16.5},{"p":4,"t":"c","x":13.5,"y":18.0},{"p":4,"t":"c","x":9.0,"y":16.5},{"p":4,"t":"c","x":10.5,"y":17.5},{"p":4,"t":"c","x":12.0,"y":18.0},{"p":4,"t":"c","x":14.5,"y":17.0},{"p":4,"t":"c","x":15.5,"y":19.0},{"p":4,"t":"c","x":6.5,"y":9.6},{"p":4,"t":"c","x":8.5,"y":10.0},{"p":4,"t":"c","x":18.0,"y":18.0},{"p":4,"t":"c","x":19.5,"y":21.0},{"p":4,"t":"c","x":20.5,"y":22.0},{"p":4,"t":"c","x":22.0,"y":22.8},{"p":4,"t":"c","x":3.5,"y":10.5},{"p":4,"t":"c","x":4.5,"y":12.8},
{"p":4,"t":"v","x":60.8,"y":58.4},{"p":4,"t":"v","x":64.7,"y":39.2},{"p":4,"t":"v","x":30.7,"y":52.9},{"p":4,"t":"v","x":48.2,"y":31.8},{"p":4,"t":"v","x":49.1,"y":39.2},{"p":4,"t":"v","x":46.2,"y":39.2},{"p":4,"t":"v","x":39.9,"y":37.7},{"p":4,"t":"v","x":37.7,"y":36.8},{"p":4,"t":"v","x":33.9,"y":38.1},{"p":4,"t":"v","x":37.7,"y":33.9},{"p":4,"t":"v","x":37.3,"y":31.8},{"p":4,"t":"v","x":36.3,"y":27.6},{"p":4,"t":"v","x":37.0,"y":27.6},{"p":4,"t":"v","x":34.4,"y":27.2},{"p":4,"t":"v","x":39.2,"y":28.3},{"p":4,"t":"v","x":39.9,"y":28.1},{"p":4,"t":"v","x":31.4,"y":25.2},{"p":4,"t":"v","x":29.6,"y":25.9},{"p":4,"t":"v","x":31.5,"y":31.5},{"p":4,"t":"v","x":27.2,"y":35.2},{"p":4,"t":"v","x":23.1,"y":37.0},{"p":4,"t":"v","x":29.7,"y":20.8},{"p":4,"t":"v","x":23.2,"y":29.5},{"p":4,"t":"v","x":26.1,"y":27.9},{"p":4,"t":"v","x":25.9,"y":23.9},{"p":4,"t":"v","x":23.7,"y":22.6},{"p":4,"t":"v","x":21.4,"y":28.3},{"p":4,"t":"v","x":18.6,"y":29.5},{"p":4,"t":"v","x":19.2,"y":25.7},{"p":4,"t":"v","x":18.9,"y":23.6},{"p":4,"t":"v","x":21.0,"y":20.3},{"p":4,"t":"v","x":21.4,"y":17.8},{"p":4,"t":"v","x":18.3,"y":22.5},{"p":4,"t":"v","x":17.0,"y":22.3},{"p":4,"t":"v","x":15.6,"y":23.6},{"p":4,"t":"v","x":13.4,"y":27.6},{"p":4,"t":"v","x":13.3,"y":24.7},{"p":4,"t":"v","x":14.9,"y":24.3},{"p":4,"t":"v","x":15.4,"y":20.3},{"p":4,"t":"v","x":16.3,"y":14.1},{"p":4,"t":"v","x":17.8,"y":14.1},{"p":4,"t":"v","x":15.2,"y":14.7},{"p":4,"t":"v","x":11.2,"y":18.9},{"p":4,"t":"v","x":10.9,"y":19.8},{"p":4,"t":"v","x":11.6,"y":18.5},{"p":4,"t":"v","x":7.4,"y":25.4},{"p":4,"t":"v","x":4.9,"y":21.6},{"p":4,"t":"v","x":8.3,"y":9.8},{"p":4,"t":"v","x":13.8,"y":7.6},{"p":4,"t":"v","x":15.4,"y":5.4},{"p":4,"t":"v","x":5.8,"y":2.5},{"p":4,"t":"v","x":13.8,"y":2.7},{"p":4,"t":"v","x":17.0,"y":0},{"p":4,"t":"v","x":9.4,"y":11.4}
],
"lines":[
{"p":1,"k":"solid","x":0.3,"y":1.2},{"p":1,"k":"solid","x":24.5,"y":20.7},{"p":1,"k":"dashed","x":0.3,"y":0.8},{"p":1,"k":"dashed","x":25.8,"y":23.2},
{"p":2,"k":"solid","x":0.8,"y":1.0},{"p":2,"k":"solid","x":36.0,"y":32.8},{"p":2,"k":"dashed","x":0.8,"y":0.4},{"p":2,"k":"dashed","x":38.7,"y":36.2},
{"p":3,"k":"solid","x":1.9,"y":4.4},{"p":3,"k":"solid","x":49.6,"y":44.3},{"p":3,"k":"dashed","x":1.9,"y":3.0},{"p":3,"k":"dashed","x":50.6,"y":42.3},
{"p":4,"k":"solid","x":2.8,"y":8.2},{"p":4,"k":"solid","x":64.4,"y":54.9},{"p":4,"k":"dashed","x":2.8,"y":8.8},{"p":4,"k":"dashed","x":65.1,"y":51.3}
],
"one":[
{"p":1,"x":0,"y":0},{"p":1,"x":30,"y":30},{"p":2,"x":0,"y":0},{"p":2,"x":50,"y":50},{"p":3,"x":0,"y":0},{"p":3,"x":60,"y":60},{"p":4,"x":0,"y":0},{"p":4,"x":70,"y":70}
],
"ttl":[
{"p":1,"x":1.2,"y":27.05,"sub":"3d"},{"p":2,"x":2.27,"y":44.98,"sub":"7d"},{"p":3,"x":2.46,"y":54.1,"sub":"28d"},{"p":4,"x":2.59,"y":63.1,"sub":"91d"}
],
"lbl":[
{"p":1,"x":27.5,"y":28.1},{"p":2,"x":46.07,"y":46.9},{"p":3,"x":55.3,"y":56.3},{"p":4,"x":64.06,"y":65.3}
],
"ann":[
{"p":1,"k":"r2cv","st":"R²","sb":"CV","v":"= 0.80","x":19.37,"y":9.41},{"p":1,"k":"rpdcv","st":"RPD","sb":"CV","v":"= 2.2","x":19.37,"y":6.71},{"p":1,"k":"r2p","st":"R²","sb":"P","v":"= 0.78","x":19.37,"y":4.01},{"p":1,"k":"rpdp","st":"RPD","sb":"P","v":"= 2.1","x":19.37,"y":1.30},
{"p":2,"k":"r2cv","st":"R²","sb":"CV","v":"= 0.88","x":32.03,"y":16.15},{"p":2,"k":"rpdcv","st":"RPD","sb":"CV","v":"= 2.9","x":32.03,"y":11.5},{"p":2,"k":"r2p","st":"R²","sb":"P","v":"= 0.78","x":32.03,"y":7.0},{"p":2,"k":"rpdp","st":"RPD","sb":"P","v":"= 2.0","x":32.03,"y":2.4},
{"p":3,"k":"r2cv","st":"R²","sb":"CV","v":"= 0.84","x":37.8,"y":18.45},{"p":3,"k":"rpdcv","st":"RPD","sb":"CV","v":"= 2.5","x":37.8,"y":13.05},{"p":3,"k":"r2p","st":"R²","sb":"P","v":"= 0.67","x":37.8,"y":7.8},{"p":3,"k":"rpdp","st":"RPD","sb":"P","v":"= 1.7","x":37.8,"y":2.55},
{"p":4,"k":"r2cv","st":"R²","sb":"CV","v":"= 0.74","x":44.54,"y":21.1},{"p":4,"k":"rpdcv","st":"RPD","sb":"CV","v":"= 2.0","x":44.54,"y":15.0},{"p":4,"k":"r2p","st":"R²","sb":"P","v":"= 0.58","x":44.54,"y":8.7},{"p":4,"k":"rpdp","st":"RPD","sb":"P","v":"= 1.5","x":44.54,"y":2.2}
]
},
"title":{"text":"NIRS predicted values","orient":"left","anchor":"middle","offset":39,"dx":-10},
"vconcat":[{
"title":{"text":"Measured values","orient":"bottom","anchor":"middle","offset":25,"dx":20},
"columns":2,
"spacing":{"row":73,"column":52},
"concat":[
{"width":322,"height":322,
"encoding":{"x":{"field":"x","type":"quantitative","scale":{"domain":[0,30],"nice":false},"axis":{"values":[0,5,10,15,20,25,30]}},"y":{"field":"y","type":"quantitative","scale":{"domain":[0,30],"nice":false},"axis":{"values":[0,5,10,15,20,25,30]}}},
"layer":[
{"data":{"name":"pts"},"transform":[{"filter":"datum.p==1"}],"mark":{"type":"point","filled":true,"size":75,"stroke":"black","strokeWidth":1,"opacity":1},"encoding":{"fill":{"field":"t","type":"nominal","scale":{"domain":["c","v"],"range":["black","white"]},"legend":null}}},
{"data":{"name":"one"},"transform":[{"filter":"datum.p==1"}],"mark":{"type":"line","color":"black","strokeWidth":0.8},"encoding":{}},
{"data":{"name":"lines"},"transform":[{"filter":"datum.p==1"}],"mark":{"type":"line","color":"black","strokeWidth":2},"encoding":{"strokeDash":{"field":"k","type":"nominal","scale":{"domain":["solid","dashed"],"range":[[1,0],[10,5]]},"legend":null}}},
{"data":{"name":"ttl"},"transform":[{"filter":"datum.p==1"}],"mark":{"type":"text","align":"left","baseline":"alphabetic","fontSize":23,"text":"C"}},
{"data":{"name":"ttl"},"transform":[{"filter":"datum.p==1"}],"mark":{"type":"text","align":"left","baseline":"alphabetic","fontSize":16,"dx":17,"dy":5},"encoding":{"text":{"field":"sub"}}},
{"data":{"name":"ttl"},"transform":[{"filter":"datum.p==1"}],"mark":{"type":"text","align":"left","baseline":"alphabetic","fontSize":23,"dx":42,"text":"(%TOC)"}},
{"data":{"name":"lbl"},"transform":[{"filter":"datum.p==1"}],"mark":{"type":"text","align":"right","baseline":"alphabetic","fontSize":16,"color":"#999999","text":"1:1"}},
{"data":{"name":"ann"},"transform":[{"filter":"datum.p==1"}],"mark":{"type":"text","align":"left","baseline":"alphabetic","fontSize":18},"encoding":{"text":{"field":"st"}}},
{"data":{"name":"ann"},"transform":[{"filter":"datum.p==1 && datum.st=='R²'"}],"mark":{"type":"text","align":"left","baseline":"alphabetic","fontSize":14,"dx":20,"dy":5},"encoding":{"text":{"field":"sb"}}},
{"data":{"name":"ann"},"transform":[{"filter":"datum.p==1 && datum.st=='RPD'"}],"mark":{"type":"text","align":"left","baseline":"alphabetic","fontSize":14,"dx":38.5,"dy":5},"encoding":{"text":{"field":"sb"}}},
{"data":{"name":"ann"},"transform":[{"filter":"datum.p==1 && datum.k=='r2cv'"}],"mark":{"type":"text","align":"left","baseline":"alphabetic","fontSize":18,"dx":44},"encoding":{"text":{"field":"v"}}},
{"data":{"name":"ann"},"transform":[{"filter":"datum.p==1 && datum.k=='rpdcv'"}],"mark":{"type":"text","align":"left","baseline":"alphabetic","fontSize":18,"dx":63.5},"encoding":{"text":{"field":"v"}}},
{"data":{"name":"ann"},"transform":[{"filter":"datum.p==1 && datum.k=='r2p'"}],"mark":{"type":"text","align":"left","baseline":"alphabetic","fontSize":18,"dx":34},"encoding":{"text":{"field":"v"}}},
{"data":{"name":"ann"},"transform":[{"filter":"datum.p==1 && datum.k=='rpdp'"}],"mark":{"type":"text","align":"left","baseline":"alphabetic","fontSize":18,"dx":53},"encoding":{"text":{"field":"v"}}}
]},
{"width":322,"height":322,
"encoding":{"x":{"field":"x","type":"quantitative","scale":{"domain":[0,50],"nice":false},"axis":{"values":[0,10,20,30,40,50]}},"y":{"field":"y","type":"quantitative","scale":{"domain":[0,50],"nice":false},"axis":{"values":[0,10,20,30,40,50]}}},
"layer":[
{"data":{"name":"pts"},"transform":[{"filter":"datum.p==2"}],"mark":{"type":"point","filled":true,"size":75,"stroke":"black","strokeWidth":1,"opacity":1},"encoding":{"fill":{"field":"t","type":"nominal","scale":{"domain":["c","v"],"range":["black","white"]},"legend":null}}},
{"data":{"name":"one"},"transform":[{"filter":"datum.p==2"}],"mark":{"type":"line","color":"black","strokeWidth":0.8},"encoding":{}},
{"data":{"name":"lines"},"transform":[{"filter":"datum.p==2"}],"mark":{"type":"line","color":"black","strokeWidth":2},"encoding":{"strokeDash":{"field":"k","type":"nominal","scale":{"domain":["solid","dashed"],"range":[[1,0],[10,5]]},"legend":null}}},
{"data":{"name":"ttl"},"transform":[{"filter":"datum.p==2"}],"mark":{"type":"text","align":"left","baseline":"alphabetic","fontSize":23,"text":"C"}},
{"data":{"name":"ttl"},"transform":[{"filter":"datum.p==2"}],"mark":{"type":"text","align":"left","baseline":"alphabetic","fontSize":16,"dx":17,"dy":5},"encoding":{"text":{"field":"sub"}}},
{"data":{"name":"ttl"},"transform":[{"filter":"datum.p==2"}],"mark":{"type":"text","align":"left","baseline":"alphabetic","fontSize":23,"dx":42,"text":"(%TOC)"}},
{"data":{"name":"lbl"},"transform":[{"filter":"datum.p==2"}],"mark":{"type":"text","align":"right","baseline":"alphabetic","fontSize":16,"color":"#999999","text":"1:1"}},
{"data":{"name":"ann"},"transform":[{"filter":"datum.p==2"}],"mark":{"type":"text","align":"left","baseline":"alphabetic","fontSize":18},"encoding":{"text":{"field":"st"}}},
{"data":{"name":"ann"},"transform":[{"filter":"datum.p==2 && datum.st=='R²'"}],"mark":{"type":"text","align":"left","baseline":"alphabetic","fontSize":14,"dx":20,"dy":5},"encoding":{"text":{"field":"sb"}}},
{"data":{"name":"ann"},"transform":[{"filter":"datum.p==2 && datum.st=='RPD'"}],"mark":{"type":"text","align":"left","baseline":"alphabetic","fontSize":14,"dx":38.5,"dy":5},"encoding":{"text":{"field":"sb"}}},
{"data":{"name":"ann"},"transform":[{"filter":"datum.p==2 && datum.k=='r2cv'"}],"mark":{"type":"text","align":"left","baseline":"alphabetic","fontSize":18,"dx":44},"encoding":{"text":{"field":"v"}}},
{"data":{"name":"ann"},"transform":[{"filter":"datum.p==2 && datum.k=='rpdcv'"}],"mark":{"type":"text","align":"left","baseline":"alphabetic","fontSize":18,"dx":63.5},"encoding":{"text":{"field":"v"}}},
{"data":{"name":"ann"},"transform":[{"filter":"datum.p==2 && datum.k=='r2p'"}],"mark":{"type":"text","align":"left","baseline":"alphabetic","fontSize":18,"dx":34},"encoding":{"text":{"field":"v"}}},
{"data":{"name":"ann"},"transform":[{"filter":"datum.p==2 && datum.k=='rpdp'"}],"mark":{"type":"text","align":"left","baseline":"alphabetic","fontSize":18,"dx":53},"encoding":{"text":{"field":"v"}}}
]},
{"width":322,"height":322,
"encoding":{"x":{"field":"x","type":"quantitative","scale":{"domain":[0,60],"nice":false},"axis":{"values":[0,10,20,30,40,50,60]}},"y":{"field":"y","type":"quantitative","scale":{"domain":[0,60],"nice":false},"axis":{"values":[0,10,20,30,40,50,60]}}},
"layer":[
{"data":{"name":"pts"},"transform":[{"filter":"datum.p==3"}],"mark":{"type":"point","filled":true,"size":75,"stroke":"black","strokeWidth":1,"opacity":1},"encoding":{"fill":{"field":"t","type":"nominal","scale":{"domain":["c","v"],"range":["black","white"]},"legend":null}}},
{"data":{"name":"one"},"transform":[{"filter":"datum.p==3"}],"mark":{"type":"line","color":"black","strokeWidth":0.8},"encoding":{}},
{"data":{"name":"lines"},"transform":[{"filter":"datum.p==3"}],"mark":{"type":"line","color":"black","strokeWidth":2},"encoding":{"strokeDash":{"field":"k","type":"nominal","scale":{"domain":["solid","dashed"],"range":[[1,0],[10,5]]},"legend":null}}},
{"data":{"name":"ttl"},"transform":[{"filter":"datum.p==3"}],"mark":{"type":"text","align":"left","baseline":"alphabetic","fontSize":23,"text":"C"}},
{"data":{"name":"ttl"},"transform":[{"filter":"datum.p==3"}],"mark":{"type":"text","align":"left","baseline":"alphabetic","fontSize":16,"dx":17,"dy":5},"encoding":{"text":{"field":"sub"}}},
{"data":{"name":"ttl"},"transform":[{"filter":"datum.p==3"}],"mark":{"type":"text","align":"left","baseline":"alphabetic","fontSize":23,"dx":45.5,"text":"(%TOC)"}},
{"data":{"name":"lbl"},"transform":[{"filter":"datum.p==3"}],"mark":{"type":"text","align":"right","baseline":"alphabetic","fontSize":16,"color":"#999999","text":"1:1"}},
{"data":{"name":"ann"},"transform":[{"filter":"datum.p==3"}],"mark":{"type":"text","align":"left","baseline":"alphabetic","fontSize":18},"encoding":{"text":{"field":"st"}}},
{"data":{"name":"ann"},"transform":[{"filter":"datum.p==3 && datum.st=='R²'"}],"mark":{"type":"text","align":"left","baseline":"alphabetic","fontSize":14,"dx":20,"dy":5},"encoding":{"text":{"field":"sb"}}},
{"data":{"name":"ann"},"transform":[{"filter":"datum.p==3 && datum.st=='RPD'"}],"mark":{"type":"text","align":"left","baseline":"alphabetic","fontSize":14,"dx":38.5,"dy":5},"encoding":{"text":{"field":"sb"}}},
{"data":{"name":"ann"},"transform":[{"filter":"datum.p==3 && datum.k=='r2cv'"}],"mark":{"type":"text","align":"left","baseline":"alphabetic","fontSize":18,"dx":44},"encoding":{"text":{"field":"v"}}},
{"data":{"name":"ann"},"transform":[{"filter":"datum.p==3 && datum.k=='rpdcv'"}],"mark":{"type":"text","align":"left","baseline":"alphabetic","fontSize":18,"dx":63.5},"encoding":{"text":{"field":"v"}}},
{"data":{"name":"ann"},"transform":[{"filter":"datum.p==3 && datum.k=='r2p'"}],"mark":{"type":"text","align":"left","baseline":"alphabetic","fontSize":18,"dx":34},"encoding":{"text":{"field":"v"}}},
{"data":{"name":"ann"},"transform":[{"filter":"datum.p==3 && datum.k=='rpdp'"}],"mark":{"type":"text","align":"left","baseline":"alphabetic","fontSize":18,"dx":53},"encoding":{"text":{"field":"v"}}}
]},
{"width":322,"height":322,
"encoding":{"x":{"field":"x","type":"quantitative","scale":{"domain":[0,70],"nice":false},"axis":{"values":[0,20,40,60]}},"y":{"field":"y","type":"quantitative","scale":{"domain":[0,70],"nice":false},"axis":{"values":[0,20,40,60]}}},
"layer":[
{"data":{"name":"pts"},"transform":[{"filter":"datum.p==4"}],"mark":{"type":"point","filled":true,"size":75,"stroke":"black","strokeWidth":1,"opacity":1},"encoding":{"fill":{"field":"t","type":"nominal","scale":{"domain":["c","v"],"range":["black","white"]},"legend":null}}},
{"data":{"name":"one"},"transform":[{"filter":"datum.p==4"}],"mark":{"type":"line","color":"black","strokeWidth":0.8},"encoding":{}},
{"data":{"name":"lines"},"transform":[{"filter":"datum.p==4"}],"mark":{"type":"line","color":"black","strokeWidth":2},"encoding":{"strokeDash":{"field":"k","type":"nominal","scale":{"domain":["solid","dashed"],"range":[[1,0],[10,5]]},"legend":null}}},
{"data":{"name":"ttl"},"transform":[{"filter":"datum.p==4"}],"mark":{"type":"text","align":"left","baseline":"alphabetic","fontSize":23,"text":"C"}},
{"data":{"name":"ttl"},"transform":[{"filter":"datum.p==4"}],"mark":{"type":"text","align":"left","baseline":"alphabetic","fontSize":16,"dx":17,"dy":5},"encoding":{"text":{"field":"sub"}}},
{"data":{"name":"ttl"},"transform":[{"filter":"datum.p==4"}],"mark":{"type":"text","align":"left","baseline":"alphabetic","fontSize":23,"dx":46,"text":"(%TOC)"}},
{"data":{"name":"lbl"},"transform":[{"filter":"datum.p==4"}],"mark":{"type":"text","align":"right","baseline":"alphabetic","fontSize":16,"color":"#999999","text":"1:1"}},
{"data":{"name":"ann"},"transform":[{"filter":"datum.p==4"}],"mark":{"type":"text","align":"left","baseline":"alphabetic","fontSize":18},"encoding":{"text":{"field":"st"}}},
{"data":{"name":"ann"},"transform":[{"filter":"datum.p==4 && datum.st=='R²'"}],"mark":{"type":"text","align":"left","baseline":"alphabetic","fontSize":14,"dx":20,"dy":5},"encoding":{"text":{"field":"sb"}}},
{"data":{"name":"ann"},"transform":[{"filter":"datum.p==4 && datum.st=='RPD'"}],"mark":{"type":"text","align":"left","baseline":"alphabetic","fontSize":14,"dx":38.5,"dy":5},"encoding":{"text":{"field":"sb"}}},
{"data":{"name":"ann"},"transform":[{"filter":"datum.p==4 && datum.k=='r2cv'"}],"mark":{"type":"text","align":"left","baseline":"alphabetic","fontSize":18,"dx":44},"encoding":{"text":{"field":"v"}}},
{"data":{"name":"ann"},"transform":[{"filter":"datum.p==4 && datum.k=='rpdcv'"}],"mark":{"type":"text","align":"left","baseline":"alphabetic","fontSize":18,"dx":63.5},"encoding":{"text":{"field":"v"}}},
{"data":{"name":"ann"},"transform":[{"filter":"datum.p==4 && datum.k=='r2p'"}],"mark":{"type":"text","align":"left","baseline":"alphabetic","fontSize":18,"dx":34},"encoding":{"text":{"field":"v"}}},
{"data":{"name":"ann"},"transform":[{"filter":"datum.p==4 && datum.k=='rpdp'"}],"mark":{"type":"text","align":"left","baseline":"alphabetic","fontSize":18,"dx":53},"encoding":{"text":{"field":"v"}}}
]}
]}]
}
